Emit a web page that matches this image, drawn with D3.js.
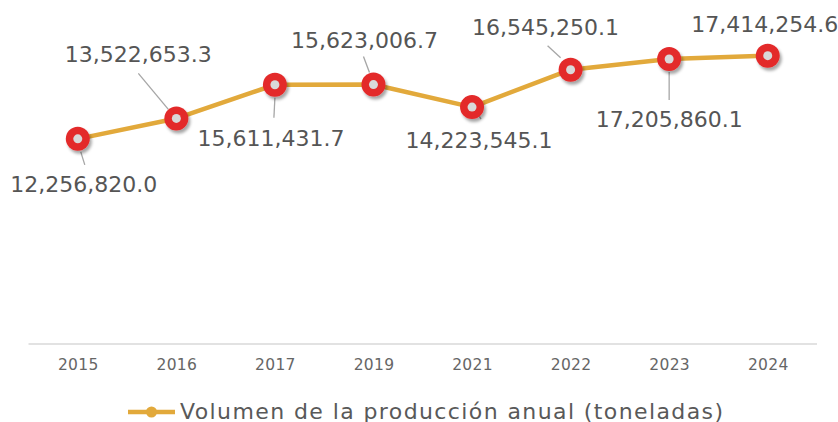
<!DOCTYPE html>
<html>
<head>
<meta charset="utf-8">
<script src="https://cdn.jsdelivr.net/npm/d3@7"></script>
<style>
  body { margin: 0; background: #fff; }
  text { font-family: "DejaVu Sans", sans-serif; }
</style>
</head>
<body>
<div id="chart"></div>
<script>
// data
var years = ['2015', '2016', '2017', '2019', '2021', '2022', '2023', '2024'];
var volumen = [12256820.0, 13522653.3, 15611431.7, 15623006.7, 14223545.1, 16545250.1, 17205860.1, 17414254.6];
var seriesName = 'Volumen de la producción anual (toneladas)';

// label placement (offsets from the point), leader line offsets
var labelPos = [
  { dx: 6,   dy: 53,  lead: [3, 13, 7, 26] },
  { dx: -38, dy: -56, lead: [-38, -45, -8, -9] },
  { dx: -4,  dy: 61,  lead: [0, 13, -1, 33] },
  { dx: -9,  dy: -37, lead: [-10, -28, -4, -12] },
  { dx: 7,   dy: 41,  lead: [6, 7, 9, 12] },
  { dx: -25, dy: -35, lead: [-23, -24, -10, -12] },
  { dx: 0,   dy: 68,  lead: [0, 13, 0, 41] },
  { dx: -3,  dy: -24, lead: null }
];

var width = 838, height = 422;
var lineColor = '#e2a93b';

var svg = d3.select('#chart').append('svg')
  .attr('width', width)
  .attr('height', height);

var defs = svg.append('defs');
var shadow = defs.append('filter').attr('id', 'shadow')
  .attr('x', '-50%').attr('y', '-50%').attr('width', '200%').attr('height', '200%');
shadow.append('feDropShadow')
  .attr('dx', 2).attr('dy', 3).attr('stdDeviation', 1.8)
  .attr('flood-color', '#000').attr('flood-opacity', 0.35);

var x = d3.scalePoint()
  .domain(years)
  .range([28.5, 817])
  .padding(0.5);

var y = d3.scaleLinear()
  .domain([-470000, 20000000])
  .range([344, 14]);

var data = years.map(function(d, i) { return { year: d, value: volumen[i], pos: labelPos[i] }; });

// category axis
var xAxis = d3.axisBottom(x).tickSize(0).tickPadding(15);
var gx = svg.append('g')
  .attr('transform', 'translate(0,' + y.range()[0] + ')')
  .call(xAxis);
gx.select('.domain').attr('stroke', '#d9d9d9').attr('stroke-width', 1.5)
  .attr('d', 'M28.5,0H817');
gx.selectAll('.tick text')
  .attr('fill', '#666666')
  .style('font-size', '15.5px')
  .style('letter-spacing', '0.3px')
  .style('font-family', '"DejaVu Sans", sans-serif');

// leader lines
svg.selectAll('line.leader')
  .data(data.filter(function(d) { return d.pos.lead; }))
  .enter()
  .append('line')
  .attr('class', 'leader')
  .attr('x1', function(d) { return x(d.year) + d.pos.lead[0]; })
  .attr('y1', function(d) { return y(d.value) + d.pos.lead[1]; })
  .attr('x2', function(d) { return x(d.year) + d.pos.lead[2]; })
  .attr('y2', function(d) { return y(d.value) + d.pos.lead[3]; })
  .attr('stroke', '#a6a6a6')
  .attr('stroke-width', 1.3);

// line
var line = d3.line()
  .x(function(d) { return x(d.year); })
  .y(function(d) { return y(d.value); });

svg.append('path')
  .datum(data)
  .attr('d', line)
  .attr('fill', 'none')
  .attr('stroke', lineColor)
  .attr('stroke-width', 4.5)
  .attr('stroke-linejoin', 'round');

// markers
var markers = svg.selectAll('g.marker')
  .data(data)
  .enter()
  .append('g')
  .attr('class', 'marker')
  .attr('transform', function(d) { return 'translate(' + x(d.year) + ',' + y(d.value) + ')'; });

markers.append('circle')
  .attr('r', 12)
  .attr('fill', '#e3292a')
  .attr('filter', 'url(#shadow)');
markers.append('circle')
  .attr('r', 4.5)
  .attr('fill', '#d9d9d9');

// value labels
svg.selectAll('text.valueLabel')
  .data(data)
  .enter()
  .append('text')
  .attr('class', 'valueLabel')
  .attr('x', function(d) { return x(d.year) + d.pos.dx; })
  .attr('y', function(d) { return y(d.value) + d.pos.dy; })
  .attr('text-anchor', 'middle')
  .attr('fill', '#555555')
  .style('font-size', '22px')
  .text(function(d) { return d3.format(',.1f')(d.value); });

// legend
var legend = svg.append('g').attr('transform', 'translate(128,412)');
legend.append('line')
  .attr('x1', 0).attr('x2', 47)
  .attr('stroke', lineColor)
  .attr('stroke-width', 4.5);
legend.append('circle')
  .attr('cx', 23.5)
  .attr('r', 5.5)
  .attr('fill', lineColor);
legend.append('text')
  .attr('x', 52)
  .attr('y', 6.5)
  .attr('fill', '#595959')
  .style('font-size', '22px')
  .style('letter-spacing', '1.4px')
  .text(seriesName);
</script>
</body>
</html>
